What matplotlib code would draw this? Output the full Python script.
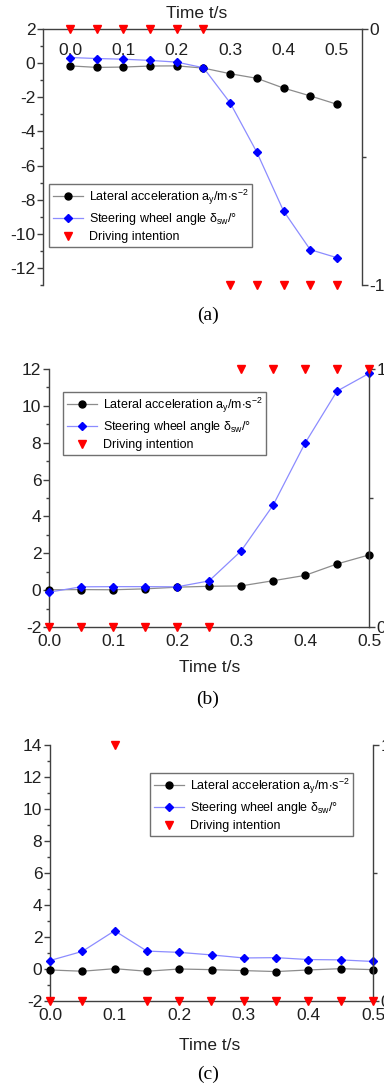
import matplotlib
matplotlib.use("Agg")
import matplotlib.pyplot as plt
from matplotlib.ticker import MultipleLocator

plt.rcParams['font.family'] = ['Liberation Sans', 'DejaVu Sans']
plt.rcParams['mathtext.fontset'] = 'custom'
plt.rcParams['mathtext.rm'] = 'Liberation Sans'
plt.rcParams['mathtext.it'] = 'Liberation Sans'
plt.rcParams['mathtext.default'] = 'regular'
plt.rcParams['axes.unicode_minus'] = False

time = [0.0, 0.05, 0.1, 0.15, 0.2, 0.25, 0.3, 0.35, 0.4, 0.45, 0.5]

# (a) left-turn case
lat_a = [-0.16, -0.25, -0.23, -0.17, -0.16, -0.29, -0.62, -0.89, -1.46, -1.92, -2.41]
steer_a = [0.33, 0.27, 0.23, 0.16, 0.06, -0.27, -2.33, -5.22, -8.66, -10.93, -11.40]
intent_a = [0, 0, 0, 0, 0, 0, -1, -1, -1, -1, -1]

# (b) right-turn case
lat_b = [0.02, 0.03, 0.02, 0.07, 0.16, 0.21, 0.23, 0.51, 0.80, 1.42, 1.91]
steer_b = [-0.11, 0.18, 0.19, 0.19, 0.18, 0.50, 2.12, 4.60, 7.97, 10.80, 11.76]
intent_b = [0, 0, 0, 0, 0, 0, 1, 1, 1, 1, 1]

# (c) lane keeping with a short disturbance
lat_c = [-0.06, -0.14, 0.02, -0.14, 0.0, -0.04, -0.10, -0.16, -0.06, 0.02, -0.04]
steer_c = [0.53, 1.10, 2.39, 1.12, 1.04, 0.88, 0.69, 0.71, 0.59, 0.57, 0.47]
intent_c = [0, 0, 1, 0, 0, 0, 0, 0, 0, 0, 0]

labels = [r'Lateral acceleration a$_y$/m$\cdot$s$^{-2}$',
          r'Steering wheel angle $\mathrm{\delta}_{sw}$/°',
          'Driving intention']

W, H = 384, 1089
fig = plt.figure(figsize=(W / 100, H / 100), dpi=100)

SPINE = '#404040'
TICKFS = 12.5
LEGFS = 9


def rect(l, r, t, b):
    return [l / W, 1 - b / H, (r - l) / W, (b - t) / H]


def draw(box, lat, steer, intent, ylim, ymaj, xlim, rlim, rticks, top_axis,
         legend_xy, xlabel_xy):
    ax = fig.add_axes(rect(*box))
    ax.plot(time, lat, color='#8c8c8c', lw=0.9, marker='o', ms=5,
            mfc='black', mec='black', label=labels[0], clip_on=False, zorder=3)
    ax.plot(time, steer, color='#8c8cff', lw=0.9, marker='D', ms=4.3,
            mfc='#0000ff', mec='#0000ff', label=labels[1], clip_on=False, zorder=4)
    ax.set_ylim(*ylim)
    ax.set_xlim(*xlim)
    ax.yaxis.set_major_locator(MultipleLocator(ymaj))
    ax.yaxis.set_minor_locator(MultipleLocator(ymaj / 2))
    ax.xaxis.set_major_locator(MultipleLocator(0.1))
    ax.xaxis.set_major_formatter(plt.FuncFormatter(lambda v, p: f'{v:.1f}'))
    for s in ax.spines.values():
        s.set_color(SPINE)
        s.set_linewidth(1.0)
    ax.spines['right'].set_visible(False)
    ax.tick_params(axis='y', which='major', direction='out', length=4,
                   width=1, color=SPINE, labelsize=TICKFS, pad=1.5,
                   labelcolor='#202020')
    ax.tick_params(axis='y', which='minor', direction='out', length=2,
                   width=1, color=SPINE)
    if top_axis:
        ax.spines['bottom'].set_visible(False)
        ax.xaxis.tick_top()
        ax.tick_params(axis='x', which='major', direction='in', length=0,
                       labelsize=TICKFS, pad=-21, labelcolor='#202020')
    else:
        ax.spines['top'].set_visible(False)
        ax.tick_params(axis='x', which='major', direction='out', length=0,
                       labelsize=TICKFS, pad=5, labelcolor='#202020')
    fig.text(xlabel_xy[0] / W, 1 - xlabel_xy[1] / H, 'Time t/s',
             ha='center', va='center', fontsize=TICKFS, color='#202020')

    ax2 = ax.twinx()
    ax2.plot(time, intent, ls='none', marker='v', ms=5.5, color='#ff0000',
             mec='#ff0000', label=labels[2], clip_on=False, zorder=5)
    ax2.set_ylim(*rlim)
    ax2.set_yticks(rticks)
    ax2.set_yticks([(rlim[0] + rlim[1]) / 2], minor=True)
    ax2.set_yticklabels([f'{v:g}' for v in rticks])
    for k, s in ax2.spines.items():
        s.set_visible(k == 'right')
    ax2.spines['right'].set_color(SPINE)
    ax2.spines['right'].set_linewidth(1.0)
    ax2.tick_params(axis='y', which='major', direction='out', length=4,
                    width=1, color=SPINE, labelsize=TICKFS, pad=1.5,
                    labelcolor='#202020')
    ax2.tick_params(axis='y', which='minor', direction='out', length=3,
                    width=1, color=SPINE)

    h1, l1 = ax.get_legend_handles_labels()
    h2, l2 = ax2.get_legend_handles_labels()
    lx, ly = legend_xy
    leg = fig.legend(h1 + h2, l1 + l2, loc='upper left',
                     bbox_to_anchor=(lx / W, 1 - ly / H), fontsize=LEGFS,
                     frameon=True, fancybox=False, edgecolor='#707070',
                     borderpad=0.3, labelspacing=0.32, handlelength=2.4,
                     handletextpad=0.5, borderaxespad=0, framealpha=1)
    leg.get_frame().set_linewidth(1.0)
    return ax


draw((43, 362, 29, 285), lat_a, steer_a, intent_a, (-13, 2), 2,
     (-0.0506, 0.547), (-1, 0), [0, -1], True, (49, 184), (197, 14))
draw((49, 369, 369, 627), lat_b, steer_b, intent_b, (-2, 12), 2,
     (0, 0.5), (0, 1), [0, 1], False, (63, 392), (210, 668))
draw((50, 373, 745, 1001), lat_c, steer_c, intent_c, (-2, 14), 2,
     (0, 0.5), (0, 1), [0, 1], False, (150, 773), (210, 1045))

for txt, y in (('(a)', 315), ('(b)', 699), ('(c)', 1074)):
    fig.text(208 / W, 1 - y / H, txt, ha='center', va='center',
             fontsize=14, family='Liberation Serif')

fig.savefig('out.png', dpi=100)
